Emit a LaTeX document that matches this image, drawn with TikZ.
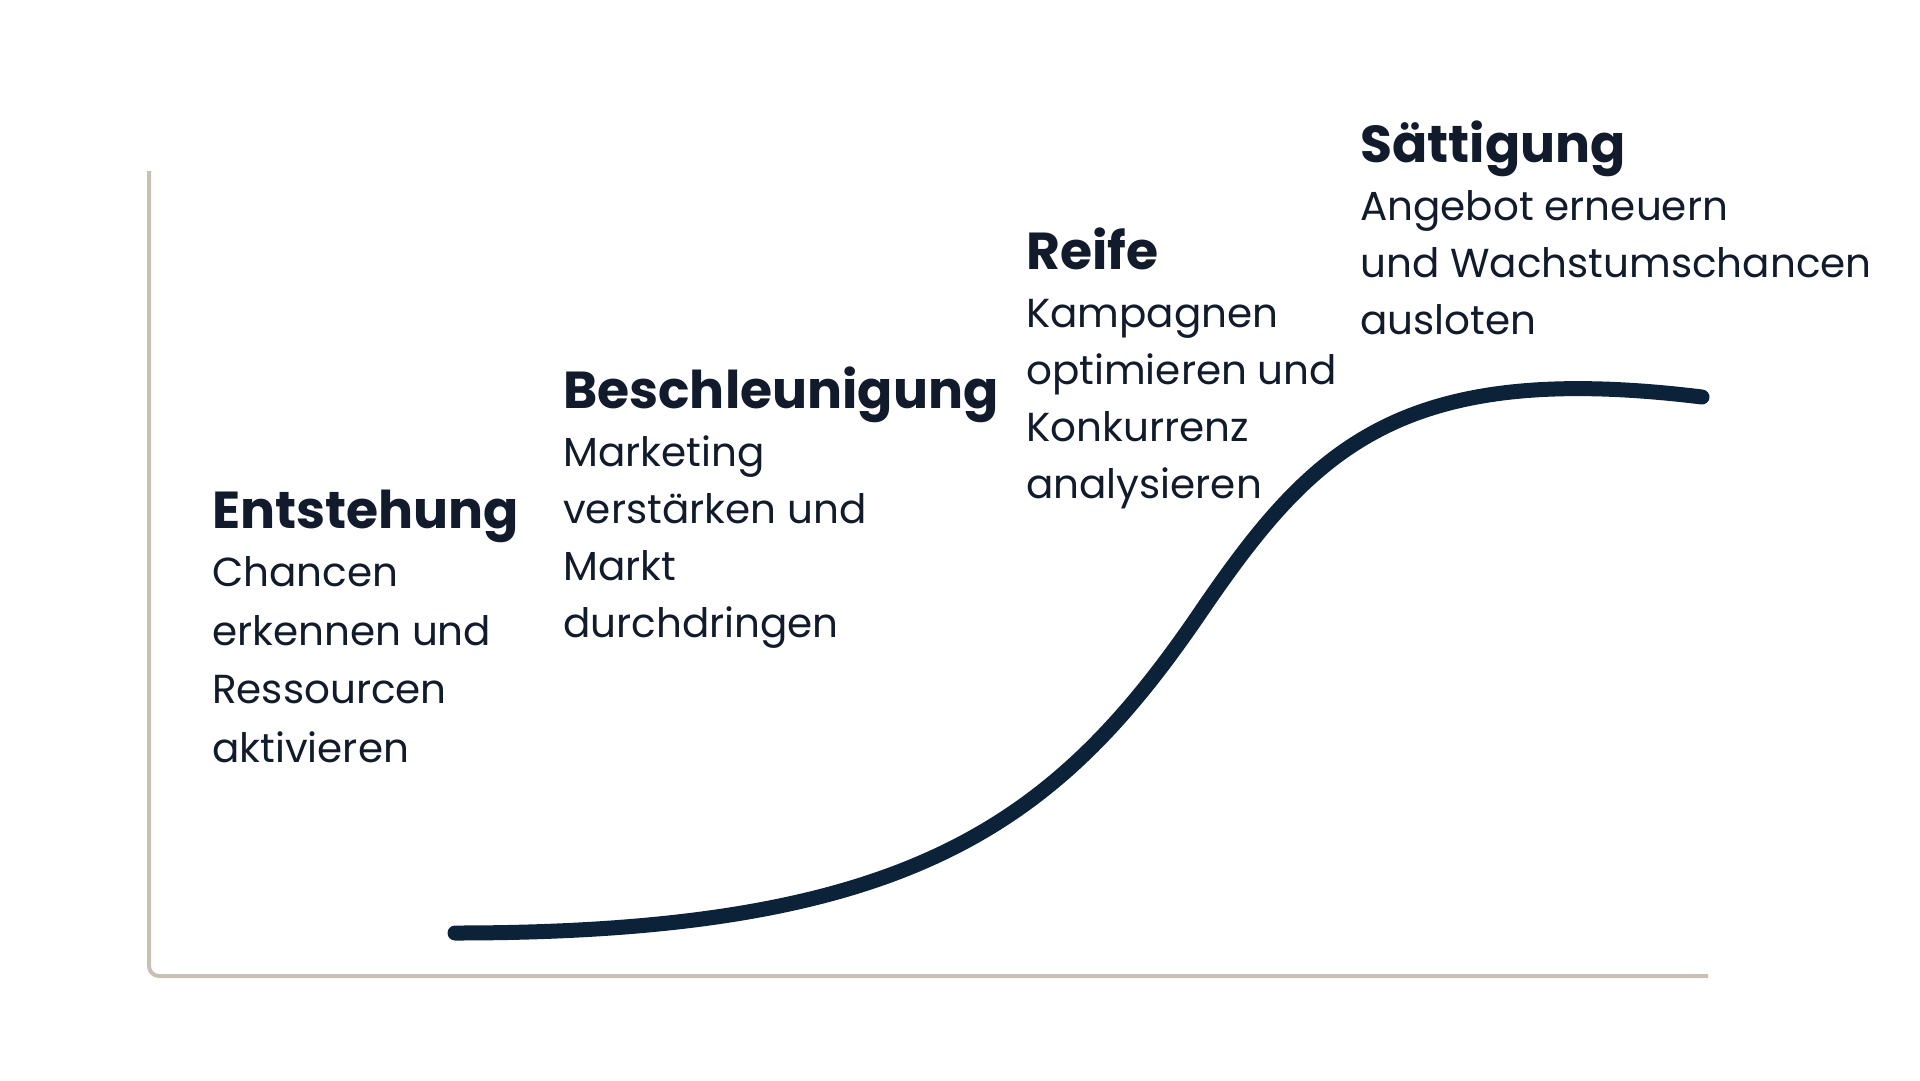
\documentclass[tikz,border=0pt]{standalone}
\usepackage{fontspec}
\setmainfont{Poppins}
\definecolor{ink}{HTML}{111B2B}
\definecolor{curve}{HTML}{0B2239}
\definecolor{axis}{HTML}{C9C0B5}
\begin{document}
\begin{tikzpicture}[x=1pt,y=-1pt,
  head/.style={anchor=base west,inner sep=0pt,text=ink,font=\fontsize{52}{60}\selectfont\bfseries},
  body/.style={anchor=base west,inner sep=0pt,text=ink,align=left,font=\fontsize{40.5}{57}\selectfont}]
\useasboundingbox[fill=white] (0,0) rectangle (1920,1080);
\draw[axis,line width=4,rounded corners=10] (149,171) |- (1708,976);
\draw[curve,line width=15,line cap=round,line join=round]
  (455,933) .. controls (905,933) and (1053.6,827.8) .. (1200,613)
  .. controls (1312.6,447.8) and (1400,360) .. (1702,397);
\node[head] (h1) at (212,528) {Entstehung};
\node[body,font=\fontsize{40.5}{58.5}\selectfont] (b1) at (212,762) {Chancen\\erkennen und\\Ressourcen\\aktivieren};
\node[head] (h2) at (563,408) {Beschleunigung};
\node[body] (b2) at (563,637) {Marketing\\verstärken und\\Markt\\durchdringen};
\node[head] (h3) at (1026,269) {Reife};
\node[body] (b3) at (1026,498) {Kampagnen\\optimieren und\\Konkurrenz\\analysieren};
\node[head] (h4) at (1360,162) {Sättigung};
\node[body] (b4) at (1360,334) {Angebot erneuern\\und Wachstumschancen\\ausloten};
\end{tikzpicture}
\end{document}
